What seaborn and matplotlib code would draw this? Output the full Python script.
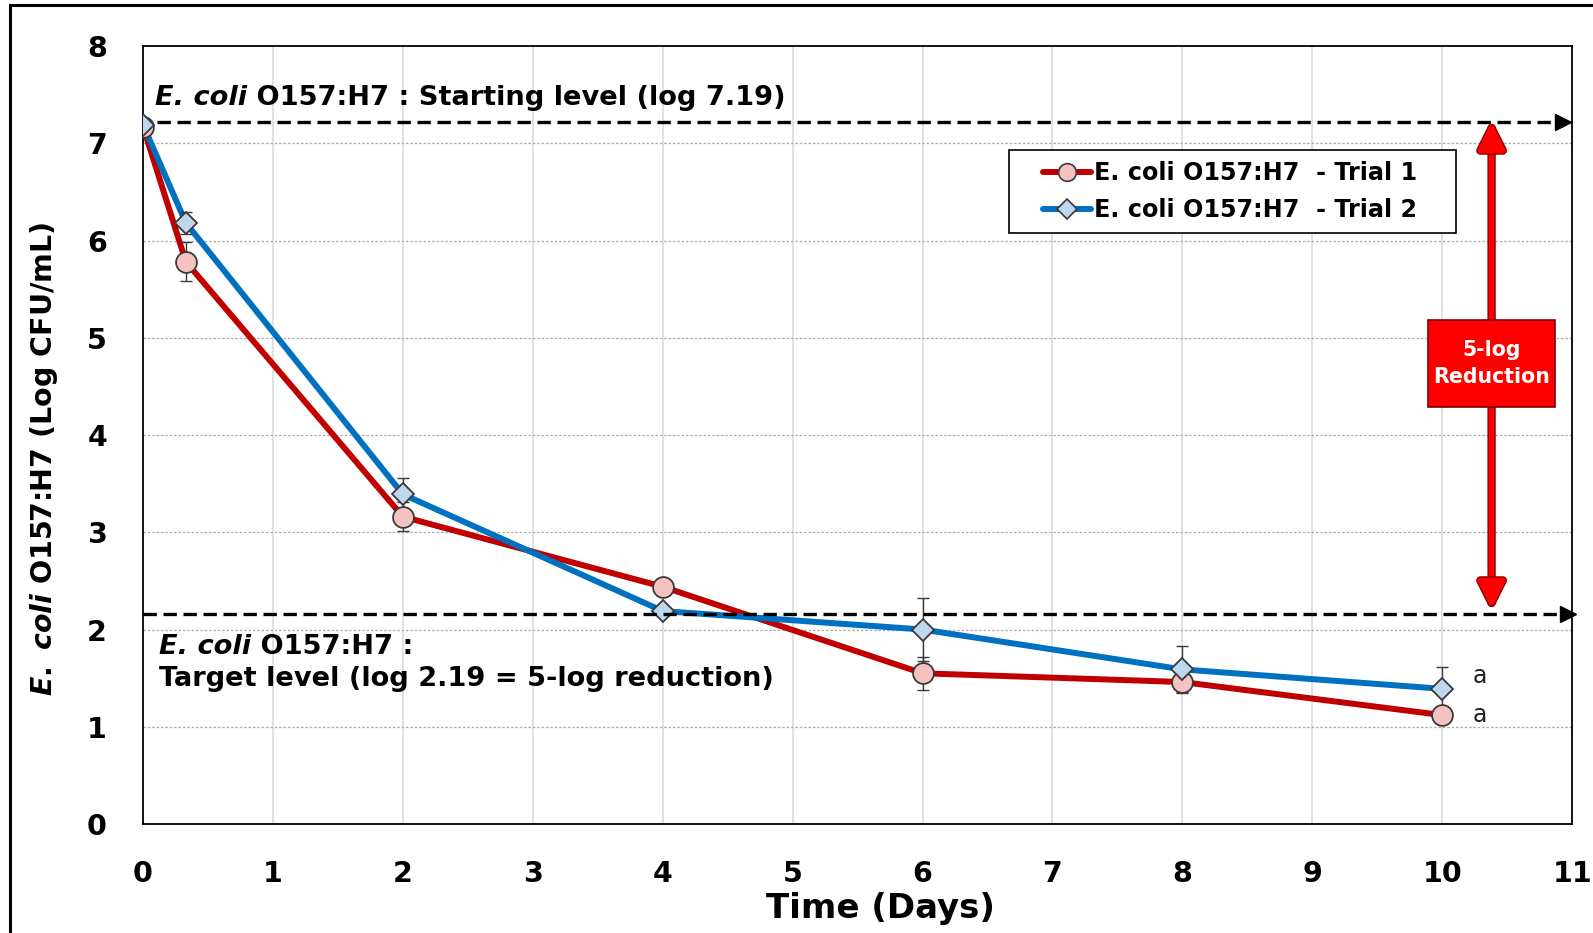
import matplotlib
matplotlib.use("Agg")
import matplotlib.pyplot as plt
import matplotlib.patheffects as pe
from matplotlib.lines import Line2D
from matplotlib.patches import Rectangle
import seaborn as sns
import pandas as pd

# ---------------- data ----------------
days = [0, 0.33, 2, 4, 6, 8, 10]
trial1_log = [7.17, 5.78, 3.16, 2.44, 1.55, 1.46, 1.12]
trial1_err = [0.03, 0.20, 0.15, 0.08, 0.17, 0.10, 0.06]
trial2_log = [7.19, 6.18, 3.39, 2.19, 2.00, 1.59, 1.39]
trial2_err = [0.03, 0.11, 0.17, 0.05, 0.32, 0.24, 0.22]
series_labels = ["E. coli O157:H7  - Trial 1", "E. coli O157:H7  - Trial 2"]
letters = ["a", "a"]
start_level_line = 7.22
target_level_line = 2.16
x_ticks = list(range(0, 12))
y_ticks = list(range(0, 9))

df = pd.DataFrame({
    "day": days * 2,
    "log": trial1_log + trial2_log,
    "err": trial1_err + trial2_err,
    "trial": [series_labels[0]] * len(days) + [series_labels[1]] * len(days),
})

# ---------------- style ----------------
sns.set_style("white")
plt.rcParams["font.family"] = ["DejaVu Sans"]
plt.rcParams["text.color"] = "black"
plt.rcParams["axes.labelcolor"] = "black"
plt.rcParams["xtick.color"] = "black"
plt.rcParams["ytick.color"] = "black"
plt.rcParams["mathtext.fontset"] = "custom"
plt.rcParams["mathtext.it"] = "DejaVu Sans:italic:bold"
plt.rcParams["mathtext.rm"] = "DejaVu Sans:bold"
plt.rcParams["mathtext.bf"] = "DejaVu Sans:bold"

RED = "#C00000"
BLUE = "#0070C0"
PINK = "#F6C1C1"
LBLUE = "#BDD7EE"
EDGE = "#3a3a3a"
ANN = 19.6

fig = plt.figure(figsize=(15.93, 9.33), dpi=100)
ax = fig.add_axes([0.0898, 0.1168, 0.8971, 0.8339])

# outer frame
fig.patches.append(Rectangle((10 / 1593, -0.02), 1.05, 1 - 5 / 933 + 0.02,
                             transform=fig.transFigure, fill=False,
                             edgecolor="black", linewidth=2.2, zorder=0))

# grid
for xv in x_ticks[1:-1]:
    ax.axvline(xv, color="#d9d9d9", lw=1.1, zorder=0)
for yv in y_ticks[1:-1]:
    ax.axhline(yv, color="#ababab", lw=0.9, ls=(0, (2, 1.5)), zorder=0)

colors = [RED, BLUE]
faces = [PINK, LBLUE]
mk = ["o", "D"]
msz = [15, 11.5]
for i, lab in enumerate(series_labels):
    sub = df[df["trial"] == lab]
    sns.lineplot(data=sub, x="day", y="log", color=colors[i], lw=4.3,
                 ax=ax, zorder=2 + i * 0.1, legend=False)
    ax.errorbar(sub["day"], sub["log"], yerr=sub["err"], fmt="none",
                ecolor=EDGE, elinewidth=1.0, capsize=4, capthick=1.0, zorder=3)
    ax.plot(sub["day"], sub["log"], ls="none", marker=mk[i], ms=msz[i],
            mfc=faces[i], mec=EDGE, mew=1.3, zorder=4 + i * 0.1)

# axes
ax.set_xlim(0, 11)
ax.set_ylim(0, 8)
ax.set_xticks(x_ticks)
ax.set_yticks(y_ticks)
ax.set_yticks([v / 5 for v in range(0, 41)], minor=True)
ax.tick_params(axis="both", which="major", direction="out", length=9, width=1.3,
               color="black", labelcolor="black", labelsize=20.5, pad=17)
ax.tick_params(axis="y", which="minor", direction="out", length=9, width=1.3, color="black")
for lab in ax.get_xticklabels() + ax.get_yticklabels():
    lab.set_fontweight("bold")
for s in ax.spines.values():
    s.set_color("black")
    s.set_linewidth(1.3)
    s.set_visible(True)

ax.set_xlabel("Time (Days)", fontsize=24.5, fontweight="bold")
ax.set_ylabel(r"$\mathit{E.\ coli}$ O157:H7 (Log CFU/mL)", fontsize=20.5,
              fontweight="bold")
ax.xaxis.set_label_coords(0.516, -0.088)
ax.yaxis.set_label_coords(-0.058, 0.469)

# reference lines with arrowheads
ax.plot([0.11, 10.95], [start_level_line] * 2, color="black", lw=2.4,
        ls=(0, (4, 2)), zorder=5, clip_on=False)
ax.plot([10.93], [start_level_line], marker=">", ms=11, color="black", zorder=5, clip_on=False)
ax.plot([0.0, 10.99], [target_level_line] * 2, color="black", lw=2.4,
        ls=(0, (4, 2)), zorder=5, clip_on=False)
ax.plot([10.97], [target_level_line], marker=">", ms=11, color="black", zorder=5, clip_on=False)

# annotation texts
t1 = ax.text(0.094, 7.33, "E. coli", fontsize=ANN,
             style="italic", weight="bold", va="bottom", ha="left")
ax.annotate(" O157:H7 : Starting level (log 7.19)", xy=(1, 0), xycoords=t1,
            fontsize=ANN, weight="bold", va="bottom", ha="left")
t2 = ax.text(0.12, 1.69, "E. coli", fontsize=ANN,
             style="italic", weight="bold", va="bottom", ha="left")
ax.annotate(" O157:H7 :", xy=(1, 0), xycoords=t2,
            fontsize=ANN, weight="bold", va="bottom", ha="left")
ax.text(0.12, 1.36, "Target level (log 2.19 = 5-log reduction)",
        fontsize=ANN, weight="bold", va="bottom", ha="left")

# letters
ax.annotate(letters[1], xy=(days[-1], trial2_log[-1]), xytext=(22, 9),
            textcoords="offset points", fontsize=17, va="center", ha="left", color="#222222")
ax.annotate(letters[0], xy=(days[-1], trial1_log[-1]), xytext=(22, 0),
            textcoords="offset points", fontsize=17, va="center", ha="left", color="#222222")

# 5-log reduction arrow and box
arrow_x = 10.38
ax.annotate("", xy=(arrow_x, 2.21), xytext=(arrow_x, start_level_line),
            arrowprops=dict(arrowstyle="<|-|>,head_length=0.9,head_width=0.45",
                            mutation_scale=18, lw=4, color="#FF0000",
                            shrinkA=0, shrinkB=0,
                            path_effects=[pe.withStroke(linewidth=6, foreground="#8B0000")]),
            zorder=6)
ax.add_patch(Rectangle((9.89, 4.29), 0.98, 0.89, facecolor="#FF0000",
                       edgecolor="#7F0000", lw=1.2, zorder=7))
ax.text(arrow_x, 4.735, "5-log\nReduction", color="white", fontsize=14.8,
        fontweight="bold", ha="center", va="center", linespacing=1.4, zorder=8)

# legend (frame drawn separately for asymmetric padding)
ax.add_patch(Rectangle((0.606, 0.760), 0.313, 0.106, transform=ax.transAxes,
                       facecolor="white", edgecolor="black", lw=1.2, zorder=8.5))
handles = [Line2D([], [], color=colors[i], lw=4.3, marker=mk[i], ms=msz[i] * 0.85,
                  mfc=faces[i], mec=EDGE, mew=1.2) for i in range(2)]
leg = ax.legend(handles, series_labels, loc="center left", bbox_to_anchor=(0.630, 0.813),
                frameon=False, prop={"size": 17.2, "weight": "bold"}, handlelength=2.0,
                handletextpad=0.1, borderpad=0, labelspacing=0.55,
                borderaxespad=0)
leg.set_zorder(9)

fig.savefig("out.png", dpi=100)
